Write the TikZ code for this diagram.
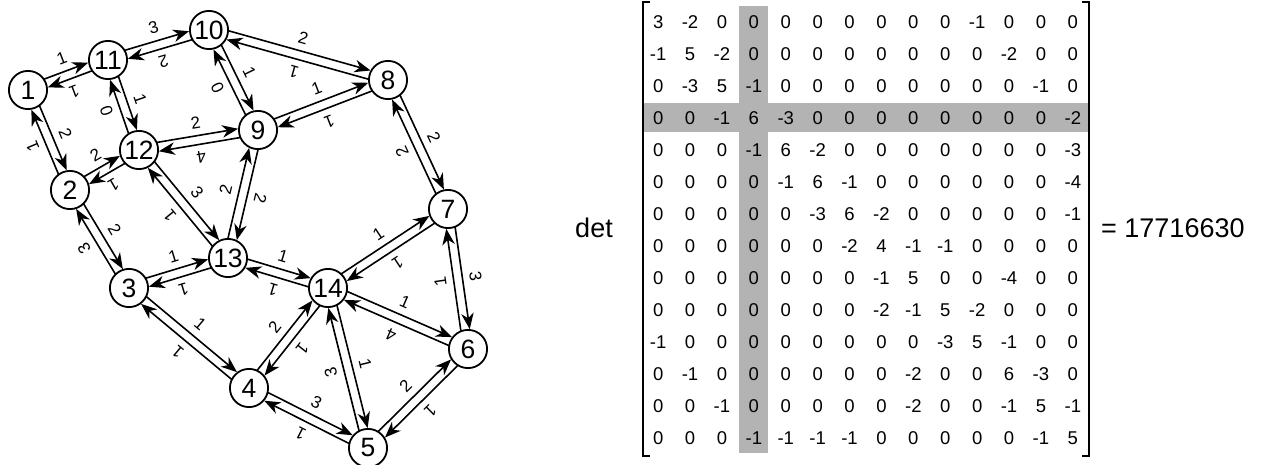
\documentclass[tikz,border=0pt]{standalone}
\usepackage{fontspec}
\setmainfont{Liberation Sans}
\usetikzlibrary{calc,arrows.meta,matrix}
\definecolor{bandgray}{RGB}{179,179,179}
\newcommand\eoff{4.5pt}
\newcommand\dedge[3]{\draw[arr] ($(n#1)!\eoff!90:(n#2)$) -- node[wl]{#3} ($(n#2)!\eoff!-90:(n#1)$);}
\begin{document}
\begin{tikzpicture}[x=1pt,y=-1pt,
  vtx/.style={circle,draw,line width=1.8pt,minimum size=38.2pt,inner sep=0pt,font=\fontsize{26.5}{26.5}\selectfont},
  arr/.style={line width=1.6pt,-{Stealth[length=16pt,width=12.5pt,inset=5pt]},shorten <=18.7pt,shorten >=19.4pt},
  wl/.style={sloped,allow upside down,above=6.5pt,inner sep=0pt,font=\fontsize{17}{17}\selectfont},
  ent/.style={minimum width=31.9pt,minimum height=32pt,inner sep=0pt,anchor=center,font=\fontsize{18.5}{18.5}\selectfont},
  big/.style={font=\fontsize{27}{27}\selectfont,inner sep=0pt}
]
\useasboundingbox (0,0) rectangle (1266,465);
% vertices
\node[vtx] (n1) at (28,90) {1};
\node[vtx] (n2) at (70,190) {2};
\node[vtx] (n3) at (129,288) {3};
\node[vtx] (n4) at (249,388) {4};
\node[vtx] (n5) at (368,448) {5};
\node[vtx] (n6) at (468,349) {6};
\node[vtx] (n7) at (448,209) {7};
\node[vtx] (n8) at (388,80) {8};
\node[vtx] (n9) at (258,130) {9};
\node[vtx] (n10) at (209,30) {10};
\node[vtx] (n11) at (108,60) {11};
\node[vtx] (n12) at (139,150) {12};
\node[vtx] (n13) at (228,258) {13};
\node[vtx] (n14) at (328,288) {14};
% directed edges
\dedge{1}{2}{2}   \dedge{2}{1}{1}
\dedge{1}{11}{1}  \dedge{11}{1}{1}
\dedge{2}{3}{2}   \dedge{3}{2}{3}
\dedge{2}{12}{2}  \dedge{12}{2}{1}
\dedge{3}{4}{1}   \dedge{4}{3}{1}
\dedge{3}{13}{1}  \dedge{13}{3}{1}
\dedge{4}{5}{3}   \dedge{5}{4}{1}
\dedge{4}{14}{2}  \dedge{14}{4}{1}
\dedge{5}{6}{2}   \dedge{6}{5}{1}
\dedge{5}{14}{3}  \dedge{14}{5}{1}
\dedge{6}{7}{1}   \dedge{7}{6}{3}
\dedge{6}{14}{4}  \dedge{14}{6}{1}
\dedge{7}{8}{2}   \dedge{8}{7}{2}
\dedge{7}{14}{1}  \dedge{14}{7}{1}
\dedge{8}{9}{1}   \dedge{9}{8}{1}
\dedge{8}{10}{1}  \dedge{10}{8}{2}
\dedge{9}{10}{0}  \dedge{10}{9}{1}
\dedge{9}{12}{4}  \dedge{12}{9}{2}
\dedge{9}{13}{2}  \dedge{13}{9}{2}
\dedge{10}{11}{2} \dedge{11}{10}{3}
\dedge{11}{12}{1} \dedge{12}{11}{0}
\dedge{12}{13}{3} \dedge{13}{12}{1}
\dedge{13}{14}{1} \dedge{14}{13}{1}
% matrix highlight bands
\fill[bandgray] (739,6) rectangle (768,453);
\fill[bandgray] (643,103) rectangle (1089,132);
\matrix (M) [matrix of nodes,nodes={ent},column sep=0pt,row sep=0pt,inner sep=0pt] at (865.5,230) {
3 & -2 & 0 & 0 & 0 & 0 & 0 & 0 & 0 & 0 & -1 & 0 & 0 & 0\\
-1 & 5 & -2 & 0 & 0 & 0 & 0 & 0 & 0 & 0 & 0 & -2 & 0 & 0\\
0 & -3 & 5 & -1 & 0 & 0 & 0 & 0 & 0 & 0 & 0 & 0 & -1 & 0\\
0 & 0 & -1 & 6 & -3 & 0 & 0 & 0 & 0 & 0 & 0 & 0 & 0 & -2\\
0 & 0 & 0 & -1 & 6 & -2 & 0 & 0 & 0 & 0 & 0 & 0 & 0 & -3\\
0 & 0 & 0 & 0 & -1 & 6 & -1 & 0 & 0 & 0 & 0 & 0 & 0 & -4\\
0 & 0 & 0 & 0 & 0 & -3 & 6 & -2 & 0 & 0 & 0 & 0 & 0 & -1\\
0 & 0 & 0 & 0 & 0 & 0 & -2 & 4 & -1 & -1 & 0 & 0 & 0 & 0\\
0 & 0 & 0 & 0 & 0 & 0 & 0 & -1 & 5 & 0 & 0 & -4 & 0 & 0\\
0 & 0 & 0 & 0 & 0 & 0 & 0 & -2 & -1 & 5 & -2 & 0 & 0 & 0\\
-1 & 0 & 0 & 0 & 0 & 0 & 0 & 0 & 0 & -3 & 5 & -1 & 0 & 0\\
0 & -1 & 0 & 0 & 0 & 0 & 0 & 0 & -2 & 0 & 0 & 6 & -3 & 0\\
0 & 0 & -1 & 0 & 0 & 0 & 0 & 0 & -2 & 0 & 0 & -1 & 5 & -1\\
0 & 0 & 0 & -1 & -1 & -1 & -1 & 0 & 0 & 0 & 0 & 0 & -1 & 5\\
};
% brackets
\draw[line width=1.3pt] (650,2) -- (643,2) -- (643,456) -- (650,456);
\draw[line width=1.3pt] (1082,2) -- (1089,2) -- (1089,456) -- (1082,456);
\node[big] (det) at (594,228) {det};
\node[big,anchor=west] (res) at (1101,228) {= 17716630};
\end{tikzpicture}
\end{document}
